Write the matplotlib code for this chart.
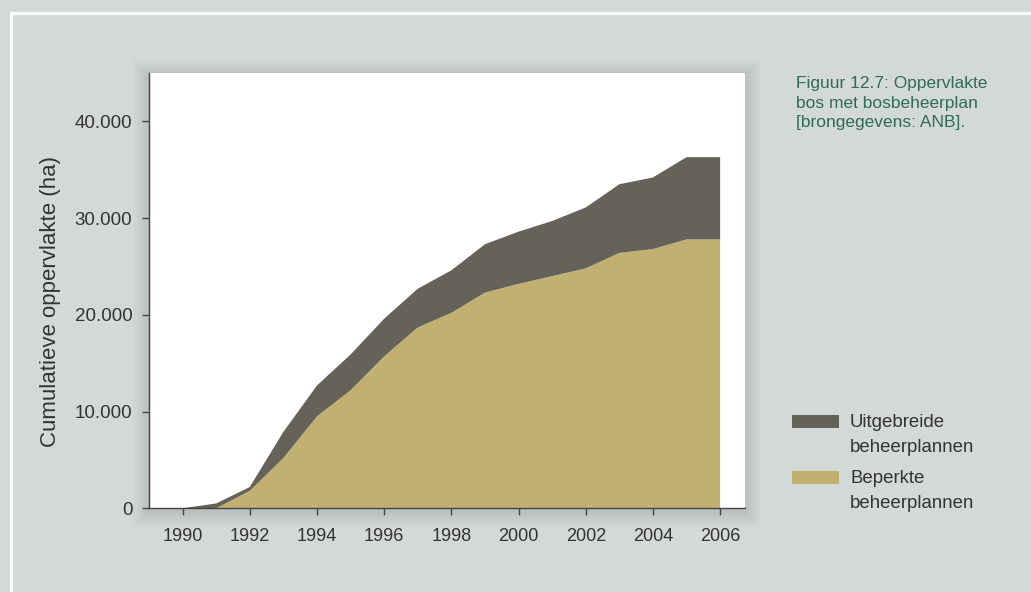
import matplotlib.pyplot as plt
from matplotlib.patches import Rectangle
from matplotlib.ticker import FuncFormatter

plt.rcParams['font.family'] = ['Liberation Sans', 'DejaVu Sans']

years = list(range(1990, 2007))
# cumulative area (ha)
beperkte = [0, 0, 1800, 5200, 9500, 12200, 15700, 18700, 20200, 22300,
            23200, 24000, 24800, 26400, 26800, 27800, 27800]
totaal = [0, 500, 2200, 7900, 12700, 15900, 19600, 22700, 24600, 27300,
          28600, 29700, 31100, 33500, 34200, 36300, 36300]
uitgebreide = [t - b for t, b in zip(totaal, beperkte)]

x_ticks = list(range(1990, 2007, 2))
y_ticks = [0, 10000, 20000, 30000, 40000]

BG = '#d3d9d7'
DARK = '#65625a'
TAN = '#c1b06f'
TXT = '#333333'
GREEN = '#2f6b55'

fig = plt.figure(figsize=(10.31, 5.92), dpi=100, facecolor=BG)

# white frame line, open to the right and bottom
fig.add_artist(Rectangle((11 / 1031, -0.1), 1.2, (592 - 13) / 592 + 0.1,
                         transform=fig.transFigure, fill=False,
                         edgecolor='white', linewidth=2.2))

ax = fig.add_axes([149 / 1031, (592 - 508.3) / 592, 596 / 1031, 435.3 / 592])

# soft shadow behind the plot area
for i in range(8):
    d = (i + 1) * 2
    fig.add_artist(Rectangle(((149 - d) / 1031, (592 - 508.3 - d - 3) / 592),
                             (596 + 2 * d) / 1031, (435.3 + 2 * d) / 592,
                             transform=fig.transFigure, facecolor='black',
                             edgecolor='none', alpha=0.012, zorder=-5))

ax.set_facecolor('white')
ax.stackplot(years, beperkte, uitgebreide, colors=[TAN, DARK], linewidth=0)

ax.set_xlim(1989, 2006.74)
ax.set_ylim(0, 45000)
ax.set_xticks(x_ticks)
ax.set_yticks(y_ticks)
ax.yaxis.set_major_formatter(FuncFormatter(lambda v, p: f'{int(v):,}'.replace(',', '.')))

for s in ['top', 'right']:
    ax.spines[s].set_visible(False)
for s in ['left', 'bottom']:
    ax.spines[s].set_color('#444444')
    ax.spines[s].set_linewidth(1.0)
ax.tick_params(axis='both', colors='#444444', labelcolor=TXT,
               length=5, width=1.0, direction='out')
ax.tick_params(axis='y', labelsize=13.5, pad=7)
ax.tick_params(axis='x', labelsize=13, pad=9)

ax.set_ylabel('Cumulatieve oppervlakte (ha)', fontsize=16, color=TXT,
              labelpad=9.5, y=0.476)

# caption
fig.text(796 / 1031, 1 - 76 / 592,
         'Figuur 12.7: Oppervlakte\nbos met bosbeheerplan\n[brongegevens: ANB].',
         fontsize=12.5, color=GREEN, va='top', ha='left', linespacing=1.38)

# legend
leg_items = [(DARK, 'Uitgebreide\nbeheerplannen', 415.3), (TAN, 'Beperkte\nbeheerplannen', 470.7)]
for col, lab, ytop in leg_items:
    fig.add_artist(Rectangle((792 / 1031, 1 - (ytop + 13) / 592), 47 / 1031, 13 / 592,
                             transform=fig.transFigure, facecolor=col, edgecolor='none'))
    fig.text(850 / 1031, 1 - (ytop - 1) / 592, lab, fontsize=13.4, color=TXT,
             va='top', ha='left', linespacing=1.62)

fig.savefig('out.png', dpi=100, facecolor=BG)
